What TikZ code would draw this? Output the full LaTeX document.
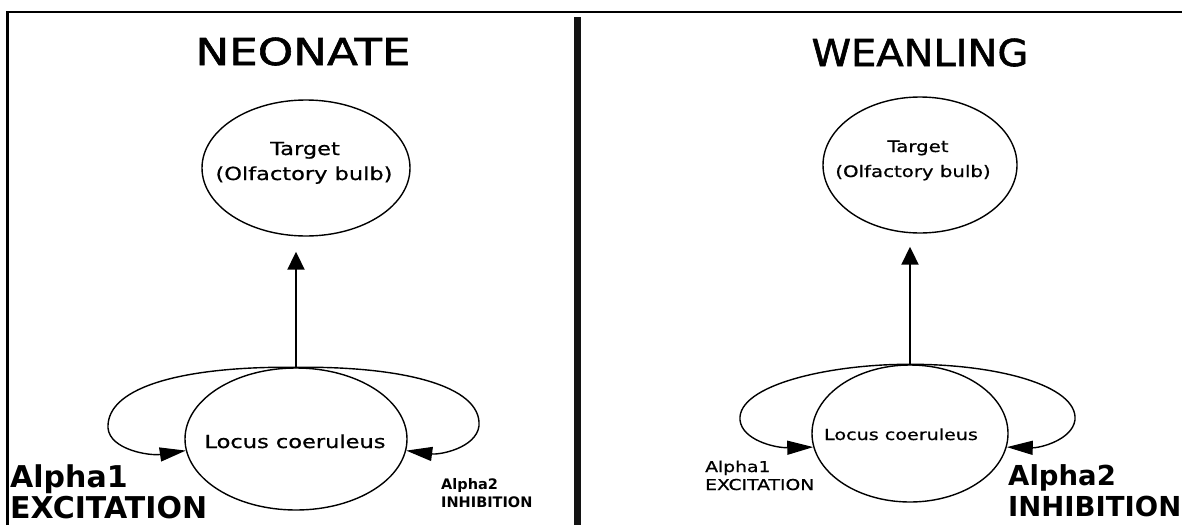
\documentclass[tikz,border=0pt]{standalone}
\usepackage{fontspec}
\setmainfont{DejaVu Sans}
\newfontfamily\wideA[FakeStretch=1.22,FakeBold=1.6]{DejaVu Sans}
\newfontfamily\wideB[FakeStretch=1.08,FakeBold=1.6]{DejaVu Sans}
\newfontfamily\wideC[FakeStretch=1.25,FakeBold=0.8]{DejaVu Sans}
\usetikzlibrary{shapes.geometric,arrows.meta}
\begin{document}
\begin{tikzpicture}[x=1pt,y=-1pt,
  ell/.style={draw, ellipse, line width=1.4pt, inner sep=0pt},
  txt/.style={inner sep=0pt, anchor=base},
  lbl/.style={inner sep=0pt, anchor=base west},
  shaft/.style={line width=2pt, -{Triangle[length=18pt,width=17pt]}},
  fb/.style={line width=1.4pt, -{Triangle[length=26pt,width=14pt]}},
]
\useasboundingbox (0,0) rectangle (1182,525);
\fill[white] (0,0) rectangle (1182,525);
% frame and divider
\draw[line width=2.2pt] (7.5,525) -- (7.5,12) -- (1182,12);
\draw[line width=7pt, gray!15!black] (577,17) -- (577,525);

% titles
\node[txt] (tN) at (303,65) {\wideA\fontsize{37}{40}\selectfont NEONATE};
\node[txt] (tW) at (920,66) {\wideB\fontsize{37}{40}\selectfont WEANLING};

% ---- NEONATE panel ----
\node[ell, minimum width=208pt, minimum height=136pt] (tgL) at (306,168) {};
\node[txt] (tgL1) at (305,155) {\wideC\fontsize{18}{20}\selectfont Target};
\node[txt] (tgL2) at (304,180) {\wideC\fontsize{18}{20}\selectfont (Olfactory bulb)};
\node[ell, minimum width=222pt, minimum height=142pt] (lcL) at (296,439) {};
\node[txt] (lcLt) at (295,448) {\wideC\fontsize{18}{20}\selectfont Locus coeruleus};
\draw[shaft] (lcL.north) -- ([yshift=-15pt]lcL.north |- tgL.south);
\draw[fb] (lcL.north) .. controls (190,366) and (106,385) .. (108,428)
          .. controls (110,450) and (150,456) .. (lcL.186);
\draw[fb] (lcL.north) .. controls (400,366) and (482,385) .. (479,426)
          .. controls (476,448) and (440,455) .. (lcL.354);
\node[lbl] (a1L) at (10,487) {\bfseries\fontsize{30}{33}\selectfont Alpha1};
\node[lbl] (exL) at (10,518) {\bfseries\fontsize{30}{33}\selectfont EXCITATION};
\node[lbl] (a2L) at (441,489) {\bfseries\fontsize{14.5}{16}\selectfont Alpha2};
\node[lbl] (inL) at (441,507) {\bfseries\fontsize{14.5}{16}\selectfont INHIBITION};

% ---- WEANLING panel ----
\node[ell, minimum width=194pt, minimum height=136pt] (tgR) at (920,165) {};
\node[txt] (tgR1) at (918,152) {\wideC\fontsize{15.8}{18}\selectfont Target};
\node[txt] (tgR2) at (913,177) {\wideC\fontsize{15.8}{18}\selectfont (Olfactory bulb)};
\node[ell, minimum width=196pt, minimum height=137pt] (lcR) at (910,433.5) {};
\node[txt] (lcRt) at (901,440) {\wideC\fontsize{15.3}{18}\selectfont Locus coeruleus};
\draw[shaft] (lcR.north) -- ([yshift=-13pt]lcR.north |- tgR.south);
\draw[fb] (lcR.north) .. controls (830,364) and (737,385) .. (740,420)
          .. controls (742,440) and (775,448) .. (lcR.188);
\draw[fb] (lcR.north) .. controls (995,364) and (1078,385) .. (1075,420)
          .. controls (1072,440) and (1040,448) .. (lcR.352);
\node[lbl] (a1R) at (705,472) {\wideC\fontsize{15}{17}\selectfont Alpha1};
\node[lbl] (exR) at (705,490) {\wideC\fontsize{15}{17}\selectfont EXCITATION};
\node[lbl] (a2R) at (1008,485) {\bfseries\fontsize{27.5}{31}\selectfont Alpha2};
\node[lbl] (inR) at (1008,516) {\bfseries\fontsize{27.5}{31}\selectfont INHIBITION};
\end{tikzpicture}
\end{document}
